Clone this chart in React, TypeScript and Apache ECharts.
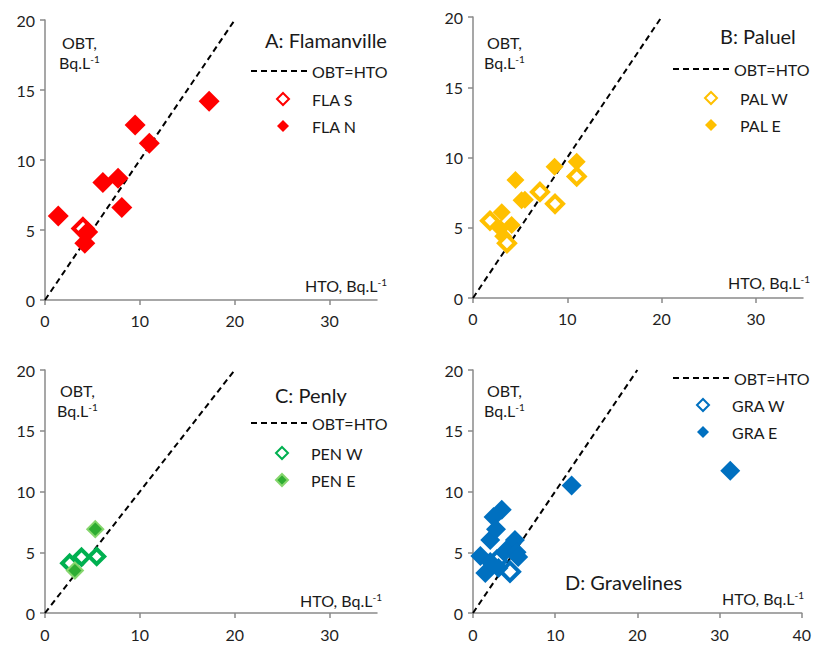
import React, { useEffect, useRef } from 'react';
import * as echarts from 'echarts';

// Reference line OBT = HTO
const refLine: number[][] = [[0, 0], [20, 20]];

// Panel A: Flamanville
const flaS: number[][] = [[4.0, 5.1]];
const flaN: number[][] = [[1.4, 6.0], [4.2, 4.05], [4.5, 4.85], [6.1, 8.4], [7.7, 8.7], [8.1, 6.6], [9.5, 12.5], [11.0, 11.2], [17.3, 14.2]];

// Panel B: Paluel
const palW: number[][] = [[1.8, 5.5], [3.6, 3.9], [7.1, 7.55], [8.7, 6.7], [11.0, 8.65]];
const palE: number[][] = [[3.05, 6.1], [2.9, 4.95], [3.2, 4.4], [4.1, 5.2], [4.5, 8.4], [5.15, 6.95], [5.5, 7.0], [8.65, 9.35], [11.0, 9.7]];

// Panel C: Penly
const penW: number[][] = [[2.6, 4.1], [3.85, 4.6], [5.45, 4.65]];
const penE: number[][] = [[3.15, 3.5], [5.3, 6.9]];

// Panel D: Gravelines
const graW: number[][] = [[4.5, 3.4], [2.9, 4.3]];
const graE: number[][] = [[0.9, 4.7], [1.5, 3.3], [2.1, 4.2], [2.1, 6.0], [2.5, 7.9], [3.5, 8.5], [2.8, 6.9], [3.1, 3.7], [4.1, 5.2], [5.1, 6.0], [5.3, 5.0], [5.5, 4.6], [12.0, 10.5], [31.3, 11.7]];

const xTicks35 = [0, 10, 20, 30];
const xTicks40 = [0, 10, 20, 30, 40];
const yTicks = [0, 5, 10, 15, 20];

const FONT = 'Lato, "Open Sans", sans-serif';

type Panel = {
  title: string;
  grid: { left: number; top: number; width: number; height: number };
  xMax: number;
  xTicks: number[];
  hollowName: string;
  filledName: string;
  hollow: number[][];
  filled: number[][];
  color: string;
  filledColor: string;
  filledBorder?: string;
  size: number;
  hollowOnTop: boolean;
  titlePos: [number, number];
  lineLegend: [number, number];
  markLegend: [number, number];
  obtPos: [number, number];
  htoPos: [number, number];
  xLabelMargin: number;
};

const panels: Panel[] = [
  {
    title: 'A: Flamanville', grid: { left: 45, top: 20, width: 332, height: 280 }, xMax: 35, xTicks: xTicks35,
    hollowName: 'FLA S', filledName: 'FLA N', hollow: flaS, filled: flaN, color: '#FF0000', filledColor: '#FF0000',
    size: 21, hollowOnTop: false, titlePos: [265, 40], lineLegend: [245, 69], markLegend: [277, 98],
    obtPos: [62, 42], htoPos: [305, 285], xLabelMargin: 12,
  },
  {
    title: 'B: Paluel', grid: { left: 473, top: 17, width: 330, height: 281 }, xMax: 35, xTicks: xTicks35,
    hollowName: 'PAL W', filledName: 'PAL E', hollow: palW, filled: palE, color: '#FFC000', filledColor: '#FFC000',
    size: 18, hollowOnTop: true, titlePos: [720, 36], lineLegend: [667, 67], markLegend: [705, 97],
    obtPos: [487, 42], htoPos: [728, 282], xLabelMargin: 12,
  },
  {
    title: 'C: Penly', grid: { left: 45, top: 370, width: 332, height: 243 }, xMax: 35, xTicks: xTicks35,
    hollowName: 'PEN W', filledName: 'PEN E', hollow: penW, filled: penE, color: '#00B050', filledColor: '#2EAD32', filledBorder: '#86D66E',
    size: 17, hollowOnTop: false, titlePos: [275, 395], lineLegend: [245, 421], markLegend: [276, 452],
    obtPos: [60, 390], htoPos: [300, 600], xLabelMargin: 13,
  },
  {
    title: 'D: Gravelines', grid: { left: 473, top: 370, width: 331, height: 243 }, xMax: 40, xTicks: xTicks40,
    hollowName: 'GRA W', filledName: 'GRA E', hollow: graW, filled: graE, color: '#0070C0', filledColor: '#0070C0',
    size: 20, hollowOnTop: false, titlePos: [565, 582], lineLegend: [667, 376], markLegend: [697, 404],
    obtPos: [487, 390], htoPos: [722, 598], xLabelMargin: 13,
  },
];

const supRich = {
  m: { fontSize: 16, fontFamily: FONT, fill: '#1a1a1a', color: '#1a1a1a' },
  s: { fontSize: 10, fontFamily: FONT, fill: '#1a1a1a', color: '#1a1a1a', verticalAlign: 'top' },
};

export default function App() {
  const ref = useRef<HTMLDivElement>(null);
  useEffect(() => {
    if (!ref.current) return;
    const chart = echarts.init(ref.current, null, { renderer: 'svg' });
    const axisLine = { show: true, lineStyle: { color: '#8a8a8a', width: 1.5 } };
    const axisTick = { show: true, inside: false, length: 5, lineStyle: { color: '#8a8a8a', width: 1.5 } };

    const grid: any[] = [];
    const xAxis: any[] = [];
    const yAxis: any[] = [];
    const series: any[] = [];
    const legend: any[] = [];
    const graphic: any[] = [];

    panels.forEach((p, i) => {
      grid.push({ ...p.grid, containLabel: false });
      xAxis.push({
        type: 'value', gridIndex: i, min: 0, max: p.xMax, interval: 10,
        axisLine, axisTick: { ...axisTick, customValues: p.xTicks }, splitLine: { show: false },
        axisLabel: { customValues: p.xTicks, margin: p.xLabelMargin, fontSize: 16, fontFamily: FONT, color: '#1f1f1f' },
      });
      yAxis.push({
        type: 'value', gridIndex: i, min: 0, max: 20, interval: 5,
        axisLine, axisTick: { ...axisTick, customValues: yTicks }, splitLine: { show: false },
        axisLabel: { customValues: yTicks, margin: 10, fontSize: 16, fontFamily: FONT, color: '#1f1f1f' },
      });
      series.push({
        type: 'line', name: 'OBT=HTO', xAxisIndex: i, yAxisIndex: i, data: refLine, symbol: 'none',
        itemStyle: { color: '#000' },
        lineStyle: { color: '#000', width: 2, type: [6, 4] }, z: 2, silent: true,
      });
      const hollowS = {
        type: 'scatter', name: p.hollowName, xAxisIndex: i, yAxisIndex: i, data: p.hollow,
        symbol: 'diamond', symbolSize: p.size - 2,
        itemStyle: { color: '#ffffff', borderColor: p.color, borderWidth: 4, opacity: 1 },
        z: p.hollowOnTop ? 4 : 3,
      };
      const filledS = {
        type: 'scatter', name: p.filledName, xAxisIndex: i, yAxisIndex: i, data: p.filled,
        symbol: 'diamond', symbolSize: p.filledBorder ? p.size - 1 : p.size,
        itemStyle: { color: p.filledColor, borderColor: p.filledBorder || p.filledColor, borderWidth: p.filledBorder ? 2 : 0, opacity: 1 },
        z: p.hollowOnTop ? 3 : 4,
      };
      series.push(hollowS, filledS);

      legend.push({
        data: ['OBT=HTO'], left: p.lineLegend[0], top: p.lineLegend[1] - 11, itemWidth: 56, itemHeight: 14,
        itemStyle: { opacity: 0 },
        selectedMode: false, textStyle: { fontSize: 16, fontFamily: FONT, color: '#1a1a1a' },
      });
      legend.push({
        data: [p.hollowName, p.filledName], orient: 'vertical', left: p.markLegend[0] - 6, top: p.markLegend[1] - 12,
        itemWidth: 12, itemHeight: 12, itemGap: 11, selectedMode: false,
        textStyle: { fontSize: 16, fontFamily: FONT, color: '#1a1a1a', padding: [0, 0, 0, 18] },
      });

      graphic.push({
        type: 'text', x: p.titlePos[0], y: p.titlePos[1],
        style: { text: p.title, font: `20px ${FONT}`, fill: '#1a1a1a', align: 'left', verticalAlign: 'middle' },
      });
      graphic.push({
        type: 'text', x: p.obtPos[0], y: p.obtPos[1],
        style: { text: 'OBT,', font: `16px ${FONT}`, fill: '#1a1a1a', align: 'left', verticalAlign: 'middle' },
      });
      graphic.push({
        type: 'text', x: p.obtPos[0] - 3, y: p.obtPos[1] + 20,
        style: { text: '{m|Bq.L}{s|-1}', rich: supRich, align: 'left', verticalAlign: 'middle' },
      });
      graphic.push({
        type: 'text', x: p.htoPos[0], y: p.htoPos[1],
        style: { text: '{m|HTO, Bq.L}{s|-1}', rich: supRich, align: 'left', verticalAlign: 'middle' },
      });
    });

    chart.setOption({
      animation: false,
      backgroundColor: '#ffffff',
      textStyle: { fontFamily: FONT },
      grid, xAxis, yAxis, series, legend, graphic,
    });
    return () => chart.dispose();
  }, []);
  return <div ref={ref} style={{ position: 'absolute', left: 0, top: 0, width: 814, height: 645 }} />;
}
